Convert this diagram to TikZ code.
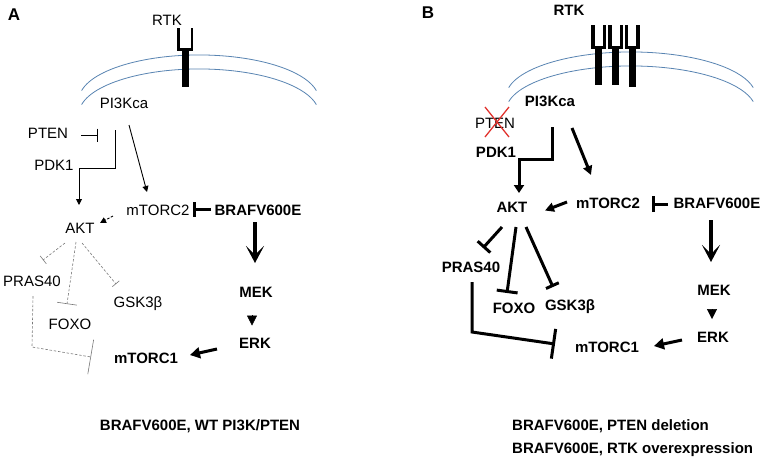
\documentclass[tikz,border=0pt]{standalone}
\usepackage{fontspec}
\setmainfont{Liberation Sans}
\usetikzlibrary{arrows.meta}
\definecolor{memb}{RGB}{88,132,178}
\definecolor{dgray}{RGB}{120,120,120}
\definecolor{xred}{RGB}{225,50,45}
\begin{document}
\begin{tikzpicture}[x=1pt,y=-1pt,
  lab/.style={anchor=base,inner sep=0pt,font=\fontsize{15}{18}\selectfont},
  blab/.style={anchor=base,inner sep=0pt,font=\fontsize{15}{18}\selectfont\bfseries},
  panel/.style={anchor=base,inner sep=0pt,font=\fontsize{17}{20}\selectfont\bfseries},
  membrane/.style={draw=memb,line width=0.8pt},
  arm/.style={line width=2.3pt},
  thinln/.style={line width=0.9pt},
  thinarr/.style={thinln,-{Triangle[length=6pt,width=6pt]}},
  thinbar/.style={thinln,-{Bar[width=13pt,line width=0.9pt]}},
  dashinh/.style={draw=dgray,line width=0.6pt,dash pattern=on 2.5pt off 1.8pt},
  thickln/.style={line width=3pt},
  thickarr/.style={thickln,-{Triangle[length=9pt,width=9pt]}},
  bigarr/.style={line width=3.6pt,-{Stealth[length=17pt,width=18pt,inset=9pt]}},
  tri/.style={line width=0.5pt,-{Triangle[length=10pt,width=10pt]}}
]
\useasboundingbox (0,0) rectangle (764,459);
\fill[white] (0,0) rectangle (764,459);

% ================= Panel A =================
\node[panel] (pA) at (14,20) {A};
\node[lab] (rtkA) at (167,25) {RTK};
% membrane
\draw[membrane] (81.6,90.6) arc[start angle=168,end angle=12,x radius=120pt,y radius=45pt];
\draw[membrane] (81.6,104.6) arc[start angle=168,end angle=12,x radius=120pt,y radius=45pt];
% receptor
\draw[arm] (178.5,28) -- (178.5,49.5) -- (192,49.5) -- (192,28);
\fill (181.5,48) rectangle (188.5,87);

\node[lab] (pi3kA) at (124,108) {PI3Kca};
\node[lab] (ptenA) at (48,138) {PTEN};
\node[lab] (pdkA) at (54,170) {PDK1};
\node[lab] (mtorc2A) at (158,215) {mTORC2};
\node[blab] (brafA) at (258,215) {BRAFV600E};
\node[lab] (aktA) at (80,233) {AKT};
\node[lab] (prasA) at (32,286) {PRAS40};
\node[lab] (gskA) at (138,307) {GSK3β};
\node[lab] (foxoA) at (70,329) {FOXO};
\node[blab] (mekA) at (256,297) {MEK};
\node[blab] (erkA) at (255,348) {ERK};
\node[blab] (mtorc1A) at (146,363) {mTORC1};
\node[blab] (capA) at (200,430) {BRAFV600E, WT PI3K/PTEN};

% connector end points
\coordinate (ptenAo) at (81,135);
\coordinate (ptenAi) at (98,135);
\coordinate (pi3kAo1) at (115,130);
\coordinate (aktAi1) at (79,205);
\coordinate (pi3kAo2) at (129,125);
\coordinate (mtorc2Ai) at (147,192);
\coordinate (brafAo1) at (211,209);
\coordinate (mtorc2Ab) at (192.5,209);
\coordinate (mtorc2Ao) at (113,216);
\coordinate (aktAi2) at (100,223);
\coordinate (aktAo1) at (65,243);
\coordinate (prasAi) at (43,260);
\coordinate (aktAo2) at (76,242);
\coordinate (foxoAi) at (67,304);
\coordinate (aktAo3) at (82,243);
\coordinate (gskAi) at (116,284);
\coordinate (prasAo) at (33,296);
\coordinate (mtorc1Ai1) at (91,357);
\coordinate (brafAo2) at (255,222);
\coordinate (mekAi) at (255,263);
\coordinate (mekAo) at (252,315);
\coordinate (erkAi) at (252,325.5);
\coordinate (erkAo) at (217,349);
\coordinate (mtorc1Ai2) at (190,355);

\draw[thinbar] (ptenAo) -- (ptenAi);
\draw[thinarr] (pi3kAo1) -- (115,168) -- (79,168) -- (aktAi1);
\draw[thinarr] (pi3kAo2) -- (mtorc2Ai);
\draw[thickln,-{Bar[width=15pt,line width=3pt]}] (brafAo1) -- (mtorc2Ab);
\draw[thinln,dash pattern=on 2.5pt off 1.5pt,-{Triangle[length=6pt,width=6pt]}] (mtorc2Ao) -- (aktAi2);
\draw[dashinh,-{Bar[width=10pt,line width=0.6pt]}] (aktAo1) -- (prasAi);
\draw[dashinh,-{Bar[width=20pt,line width=0.6pt]}] (aktAo2) -- (foxoAi);
\draw[dashinh,-{Bar[width=9pt,line width=0.6pt]}] (aktAo3) -- (gskAi);
\draw[dashinh,-{Bar[width=35pt,line width=0.6pt]}] (prasAo) -- (32,347) -- (mtorc1Ai1);
\draw[bigarr] (brafAo2) -- (mekAi);
\draw[tri] (mekAo) -- (erkAi);
\draw[thickln,-{Triangle[length=10pt,width=11pt]}] (erkAo) -- (mtorc1Ai2);

% ================= Panel B =================
\node[panel] (pB) at (428,18) {B};
\node[blab] (rtkB) at (569,15) {RTK};
\draw[membrane] (508.7,87.6) arc[start angle=168,end angle=12,x radius=125pt,y radius=45pt];
\draw[membrane] (508.7,101.6) arc[start angle=168,end angle=12,x radius=125pt,y radius=45pt];
% receptors
\foreach \cx/\cb in {598.5/85, 615.5/85, 632/87}{
  \draw[line width=3.4pt] (\cx-5.5,25) -- (\cx-5.5,47.5) -- (\cx+6,47.5) -- (\cx+6,25);
  \fill (\cx-3.5,46) rectangle (\cx+3.5,\cb);
}

\node[blab] (pi3kB) at (550,106) {PI3Kca};
\node[lab] (ptenB) at (495,128) {PTEN};
\draw[xred,line width=1.3pt] (485,107) -- (509,137) (509,107) -- (485,137);
\node[blab] (pdkB) at (496,157) {PDK1};
\node[blab] (aktB) at (512,212) {AKT};
\node[blab] (mtorc2B) at (608,208) {mTORC2};
\node[blab] (brafB) at (717,208) {BRAFV600E};
\node[blab] (prasB) at (471,272) {PRAS40};
\node[blab] (foxoB) at (514,313) {FOXO};
\node[blab] (gskB) at (570,310) {GSK3β};
\node[blab] (mekB) at (714,295) {MEK};
\node[blab] (erkB) at (713,342) {ERK};
\node[blab] (mtorc1B) at (607,352) {mTORC1};
\node[blab,anchor=base west] (capB1) at (512,430) {BRAFV600E, PTEN deletion};
\node[blab,anchor=base west] (capB2) at (512,453) {BRAFV600E, RTK overexpression};

\coordinate (pi3kBo1) at (552,127);
\coordinate (aktBi1) at (519,193);
\coordinate (pi3kBo2) at (572,128);
\coordinate (mtorc2Bi) at (591,175);
\coordinate (mtorc2Bo) at (567,202);
\coordinate (aktBi2) at (545,210.5);
\coordinate (brafBo1) at (668,204);
\coordinate (mtorc2Bb) at (652,204);
\coordinate (aktBo1) at (502,227);
\coordinate (prasBi) at (483,248);
\coordinate (aktBo2) at (516,227);
\coordinate (foxoBi) at (507,293);
\coordinate (aktBo3) at (526,227);
\coordinate (gskBi) at (553,287);
\coordinate (prasBo) at (472,282);
\coordinate (mtorc1Bi1) at (555,344);
\coordinate (brafBo2) at (711,220);
\coordinate (mekBi) at (711,262);
\coordinate (mekBo) at (712,309);
\coordinate (erkBi) at (712,319);
\coordinate (erkBo) at (682,340);
\coordinate (mtorc1Bi2) at (654,346);

\draw[thickln,-{Triangle[length=8pt,width=10pt]}] (pi3kBo1) -- (552,159) -- (519,159) -- (aktBi1);
\draw[thickarr] (pi3kBo2) -- (mtorc2Bi);
\draw[thickarr] (mtorc2Bo) -- (aktBi2);
\draw[thickln,-{Bar[width=16pt,line width=3pt]}] (brafBo1) -- (mtorc2Bb);
\draw[thickln,-{Bar[width=17pt,line width=3pt]}] (aktBo1) -- (prasBi);
\draw[thickln,-{Bar[width=21pt,line width=3pt]}] (aktBo2) -- (foxoBi);
\draw[thickln,-{Bar[width=14pt,line width=3pt]}] (aktBo3) -- (gskBi);
\draw[thickln,-{Bar[width=30pt,line width=3pt]}] (prasBo) -- (472,332) -- (mtorc1Bi1);
\draw[bigarr] (brafBo2) -- (mekBi);
\draw[tri] (mekBo) -- (erkBi);
\draw[thickln,-{Triangle[length=10pt,width=11pt]}] (erkBo) -- (mtorc1Bi2);
\end{tikzpicture}
\end{document}
